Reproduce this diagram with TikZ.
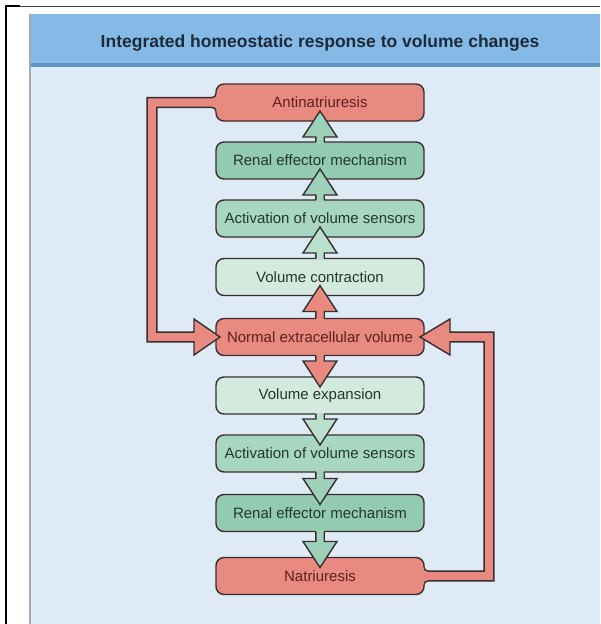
\documentclass[tikz,border=0pt]{standalone}
\usepackage{fontspec}
\setmainfont{Liberation Sans}
\usetikzlibrary{calc}
\definecolor{panelbg}{HTML}{DEEAF6}
\definecolor{headbg}{HTML}{85BAE6}
\definecolor{headline}{HTML}{5E96CA}
\definecolor{panelborder}{HTML}{A3AAB2}
\definecolor{titlecol}{HTML}{1C2A3A}
\definecolor{outl}{HTML}{3A2E2E}
\definecolor{redfill}{HTML}{E98A80}
\definecolor{redtext}{HTML}{5E2020}
\definecolor{greentext}{HTML}{25362F}
\definecolor{gdark}{HTML}{92CBB1}
\definecolor{gmed}{HTML}{A8D7C1}
\definecolor{gpale}{HTML}{D3EADF}
\definecolor{garrow}{HTML}{9DD1B9}
\definecolor{garrowpale}{HTML}{B9E0CD}
\tikzset{
  olin/.style={draw=outl, line width=1.4pt},
  box/.style={olin, rounded corners=8pt, minimum width=208pt, minimum height=37pt,
    inner sep=0pt, outer sep=0pt, font=\fontsize{15}{17}\selectfont},
  redbox/.style={box, fill=redfill, text=redtext},
  gboxdark/.style={box, fill=gdark, text=greentext},
  gboxmed/.style={box, fill=gmed, text=greentext},
  gboxpale/.style={box, fill=gpale, text=greentext},
  titletext/.style={font=\bfseries\fontsize{17.5}{20}\selectfont, text=titlecol, inner sep=0pt}
}
\newcommand{\uparr}[3]{%
  \path ($(#2.south)+(0,-10)$) coordinate (tp);
  \fill[#3] ($(#1.north)+(-4.2,1.5)$) -- ($(tp)+(-4.2,26)$) -- ($(tp)+(-17,26)$) -- (tp)
     -- ($(tp)+(17,26)$) -- ($(tp)+(4.2,26)$) -- ($(#1.north)+(4.2,1.5)$) -- cycle;
  \draw[olin] ($(#1.north)+(-4.2,0)$) -- ($(tp)+(-4.2,26)$) -- ($(tp)+(-17,26)$) -- (tp)
     -- ($(tp)+(17,26)$) -- ($(tp)+(4.2,26)$) -- ($(#1.north)+(4.2,0)$);
}
\newcommand{\downarr}[3]{%
  \path ($(#2.north)+(0,10)$) coordinate (tp);
  \fill[#3] ($(#1.south)+(-4.2,-1.5)$) -- ($(tp)+(-4.2,-26)$) -- ($(tp)+(-17,-26)$) -- (tp)
     -- ($(tp)+(17,-26)$) -- ($(tp)+(4.2,-26)$) -- ($(#1.south)+(4.2,-1.5)$) -- cycle;
  \draw[olin] ($(#1.south)+(-4.2,0)$) -- ($(tp)+(-4.2,-26)$) -- ($(tp)+(-17,-26)$) -- (tp)
     -- ($(tp)+(17,-26)$) -- ($(tp)+(4.2,-26)$) -- ($(#1.south)+(4.2,0)$);
}
% fillet: corner (#1,#2), dx=#3 (along band, away from box), dy=#4 (along box edge, away from band)
\newcommand{\fillet}[4]{%
  \fill[redfill] ({#1+#3*4},{#2}) .. controls ({#1+#3*1.79},{#2}) and ({#1},{#2+#4*1.79}) .. ({#1},{#2+#4*4})
     -- ({#1-#3*1.6},{#2+#4*4}) -- ({#1-#3*1.6},{#2-#4*1.6}) -- ({#1+#3*4},{#2-#4*1.6}) -- cycle;
  \draw[olin] ({#1+#3*4},{#2}) .. controls ({#1+#3*1.79},{#2}) and ({#1},{#2+#4*1.79}) .. ({#1},{#2+#4*4});
}
\begin{document}
\begin{tikzpicture}[x=1pt,y=-1pt]
\useasboundingbox (0,0) rectangle (600,624);
\fill[white] (0,0) rectangle (600,624);
% panel
\fill[panelbg] (30,14) rectangle (600,624);
\fill[headbg] (30,14) rectangle (600,64);
\fill[headline] (30,63) rectangle (600,67);
\draw[panelborder, line width=1.5pt] (30,14) -- (30,624);
\draw[black, line width=2.2pt] (6,6) -- (6,624);
\draw[black, line width=2.2pt] (5,6) -- (20,6);
\draw[black!75, line width=0.8pt] (20,6) -- (600,6);
\node[titletext] (title) at (320,43) {Integrated homeostatic response to volume changes};
% boxes
\node[redbox]   (anti) at (320,102.5) {Antinatriuresis};
\node[gboxdark] (ren1) at (320,160.5) {Renal effector mechanism};
\node[gboxmed]  (act1) at (320,218.5) {Activation of volume sensors};
\node[gboxpale] (vcon) at (320,277)   {Volume contraction};
\node[redbox]   (norm) at (320,337)   {Normal extracellular volume};
\node[gboxpale] (vexp) at (320,395.5) {Volume expansion};
\node[gboxmed]  (act2) at (320,453.5) {Activation of volume sensors};
\node[gboxdark] (ren2) at (320,513)   {Renal effector mechanism};
\node[redbox]   (natr) at (320,576)   {Natriuresis};
% left feedback loop
\fill[redfill] ($(anti.west)+(2,-4.9)$) -- ($(anti.west)+(-68.9,-4.9)$) -- ($(norm.west)+(-68.9,4.9)$)
  -- ($(norm.west)+(-22,4.9)$) -- ($(norm.west)+(-22,18)$) -- ($(norm.west)+(4,0)$)
  -- ($(norm.west)+(-22,-18)$) -- ($(norm.west)+(-22,-4.9)$) -- ($(norm.west)+(-59.1,-4.9)$)
  -- ($(anti.west)+(-59.1,4.9)$) -- ($(anti.west)+(2,4.9)$) -- cycle;
\draw[olin] ($(anti.west)+(0,-4.9)$) -- ($(anti.west)+(-68.9,-4.9)$) -- ($(norm.west)+(-68.9,4.9)$)
  -- ($(norm.west)+(-22,4.9)$) -- ($(norm.west)+(-22,18)$) -- ($(norm.west)+(4,0)$)
  -- ($(norm.west)+(-22,-18)$) -- ($(norm.west)+(-22,-4.9)$) -- ($(norm.west)+(-59.1,-4.9)$)
  -- ($(anti.west)+(-59.1,4.9)$) -- ($(anti.west)+(0,4.9)$);
\fillet{216}{97.6}{-1}{-1}
\fillet{216}{107.4}{-1}{1}
% right feedback loop
\fill[redfill] ($(natr.east)+(-2,-4.9)$) -- ($(natr.east)+(60.1,-4.9)$) -- ($(norm.east)+(60.1,4.9)$)
  -- ($(norm.east)+(26,4.9)$) -- ($(norm.east)+(26,18)$) -- ($(norm.east)+(-4,0)$)
  -- ($(norm.east)+(26,-18)$) -- ($(norm.east)+(26,-4.9)$) -- ($(norm.east)+(69.9,-4.9)$)
  -- ($(natr.east)+(69.9,4.9)$) -- ($(natr.east)+(-2,4.9)$) -- cycle;
\draw[olin] ($(natr.east)+(0,-4.9)$) -- ($(natr.east)+(60.1,-4.9)$) -- ($(norm.east)+(60.1,4.9)$)
  -- ($(norm.east)+(26,4.9)$) -- ($(norm.east)+(26,18)$) -- ($(norm.east)+(-4,0)$)
  -- ($(norm.east)+(26,-18)$) -- ($(norm.east)+(26,-4.9)$) -- ($(norm.east)+(69.9,-4.9)$)
  -- ($(natr.east)+(69.9,4.9)$) -- ($(natr.east)+(0,4.9)$);
\fillet{424}{571.1}{1}{-1}
\fillet{424}{580.9}{1}{1}
% block arrows
\uparr{ren1}{anti}{garrow}
\uparr{act1}{ren1}{garrow}
\uparr{vcon}{act1}{garrowpale}
\uparr{norm}{vcon}{redfill}
\downarr{norm}{vexp}{redfill}
\downarr{vexp}{act2}{garrowpale}
\downarr{act2}{ren2}{garrow}
\downarr{ren2}{natr}{garrow}
\end{tikzpicture}
\end{document}
